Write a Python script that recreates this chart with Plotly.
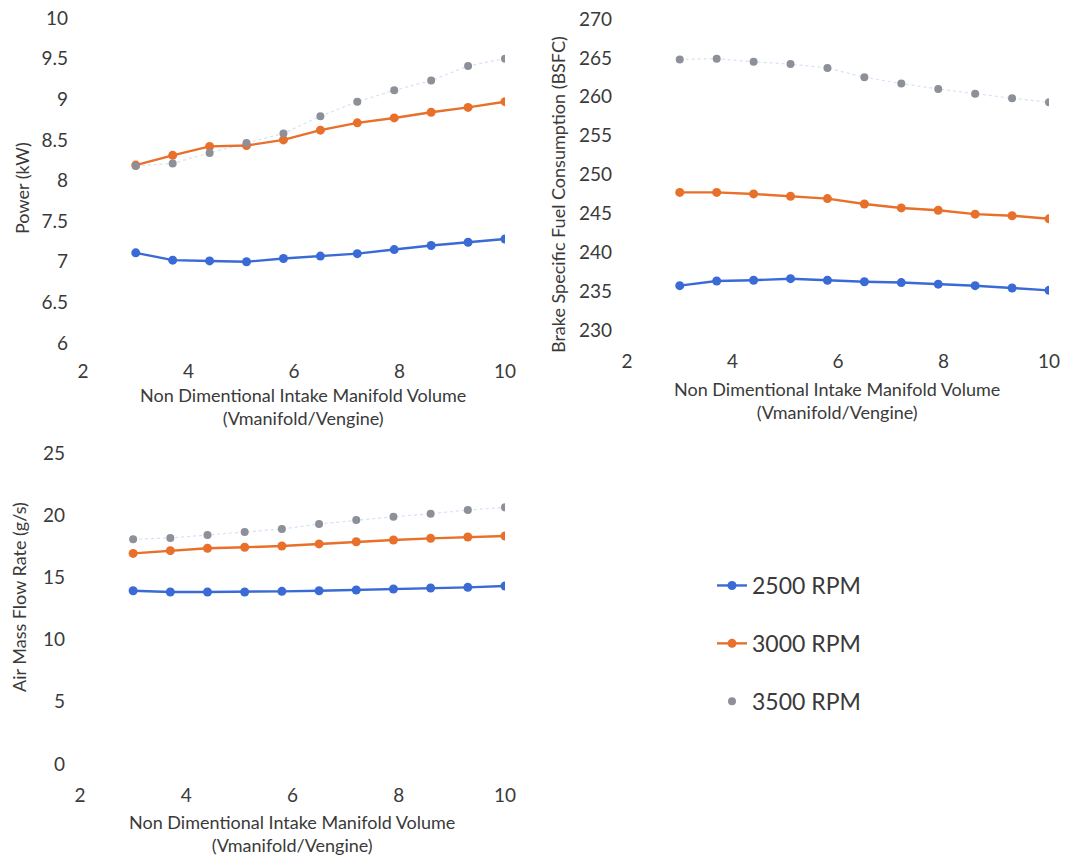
import plotly.graph_objects as go

W, H = 1081, 856

# ---- data ----
x_vals = [3.0, 3.7, 4.4, 5.1, 5.8, 6.5, 7.2, 7.9, 8.6, 9.3, 10.0]

power_2500 = [7.11, 7.02, 7.01, 7.00, 7.04, 7.07, 7.10, 7.15, 7.20, 7.24, 7.28]
power_3000 = [8.19, 8.31, 8.42, 8.43, 8.50, 8.62, 8.71, 8.77, 8.84, 8.90, 8.97]
power_3500 = [8.18, 8.21, 8.34, 8.46, 8.58, 8.79, 8.97, 9.11, 9.23, 9.41, 9.50]

bsfc_2500 = [235.7, 236.3, 236.4, 236.6, 236.4, 236.2, 236.1, 235.9, 235.7, 235.4, 235.1]
bsfc_3000 = [247.7, 247.7, 247.5, 247.2, 246.9, 246.2, 245.7, 245.4, 244.9, 244.7, 244.3]
bsfc_3500 = [264.8, 264.9, 264.5, 264.2, 263.7, 262.5, 261.7, 261.0, 260.4, 259.8, 259.3]

air_2500 = [13.93, 13.83, 13.83, 13.83, 13.88, 13.93, 13.99, 14.07, 14.15, 14.20, 14.31]
air_3000 = [16.93, 17.15, 17.34, 17.42, 17.52, 17.69, 17.87, 18.01, 18.14, 18.25, 18.33]
air_3500 = [18.06, 18.17, 18.41, 18.65, 18.89, 19.29, 19.61, 19.88, 20.12, 20.42, 20.63]

series_names = ["2500 RPM", "3000 RPM", "3500 RPM"]
x_title = "Non Dimentional Intake Manifold Volume<br>(Vmanifold/Vengine)"
y_titles = ["Power (kW)", "Brake Specific Fuel Consumption (BSFC)", "Air Mass Flow Rate (g/s)"]

# ---- styling ----
FONT = "Lato, Carlito, Calibri, sans-serif"
TXT = "#3a3a3a"
BLUE = "#3a6ad6"
ORANGE = "#e8702a"
GRAY = "#8d9099"
FAINT = "rgba(160,188,235,0.45)"

fig = go.Figure()

panels = [
    ("x", "y", [power_2500, power_3000, power_3500]),
    ("x2", "y2", [bsfc_2500, bsfc_3000, bsfc_3500]),
    ("x3", "y3", [air_2500, air_3000, air_3500]),
]

for pi, (xa, ya, data) in enumerate(panels):
    show = pi == 0
    # faint connector of 3500 series
    fig.add_trace(go.Scatter(x=x_vals, y=data[2], xaxis=xa, yaxis=ya, mode="lines",
                             line=dict(color=FAINT, width=1.2, dash="dot"),
                             showlegend=False, hoverinfo="skip"))
    fig.add_trace(go.Scatter(x=x_vals, y=data[0], xaxis=xa, yaxis=ya, mode="lines+markers",
                             name=series_names[0], legendgroup="a", showlegend=show,
                             line=dict(color=BLUE, width=2.4), marker=dict(color=BLUE, size=9)))
    fig.add_trace(go.Scatter(x=x_vals, y=data[1], xaxis=xa, yaxis=ya, mode="lines+markers",
                             name=series_names[1], legendgroup="b", showlegend=show,
                             line=dict(color=ORANGE, width=2.4), marker=dict(color=ORANGE, size=9)))
    fig.add_trace(go.Scatter(x=x_vals, y=data[2], xaxis=xa, yaxis=ya, mode="markers",
                             name=series_names[2], legendgroup="c", showlegend=show,
                             marker=dict(color=GRAY, size=8)))

def px_x(p):
    return p / W

def px_y(p):
    return 1 - p / H

axis_common = dict(showgrid=False, zeroline=False, showline=False, ticks="",
                   tickfont=dict(family=FONT, size=19, color=TXT), automargin=False)

fig.update_layout(
    width=W, height=H,
    margin=dict(l=0, r=0, t=0, b=0),
    paper_bgcolor="white", plot_bgcolor="white",
    font=dict(family=FONT, color=TXT),
    xaxis=dict(domain=[px_x(83), px_x(505)], anchor="y", range=[2, 10], dtick=2,
               ticklabelstandoff=15, **axis_common),
    yaxis=dict(domain=[px_y(343), px_y(18)], anchor="x", range=[6, 10], dtick=0.5,
               ticklabelstandoff=14, **axis_common),
    xaxis2=dict(domain=[px_x(627), px_x(1049)], anchor="y2", range=[2, 10], dtick=2,
                ticklabelstandoff=18, **axis_common),
    yaxis2=dict(domain=[px_y(330), px_y(19)], anchor="x2", range=[230, 270], dtick=5,
                ticklabelstandoff=14, **axis_common),
    xaxis3=dict(domain=[px_x(80), px_x(505)], anchor="y3", range=[2, 10], dtick=2,
                ticklabelstandoff=18, **axis_common),
    yaxis3=dict(domain=[px_y(764), px_y(453)], anchor="x3", range=[0, 25], dtick=5,
                ticklabelstandoff=14, **axis_common),
    legend=dict(x=px_x(712), y=px_y(564), xanchor="left", yanchor="top",
                font=dict(family=FONT, size=23, color=TXT),
                tracegroupgap=25, itemwidth=30, bgcolor="rgba(0,0,0,0)"),
)

ann = []
# x-axis titles
for cx, cy in [(303, 406), (837, 400), (292, 833)]:
    ann.append(dict(text=x_title, x=px_x(cx), y=px_y(cy), xref="paper", yref="paper",
                    xanchor="center", yanchor="middle", showarrow=False,
                    font=dict(family=FONT, size=18, color=TXT)))
# y-axis titles
for t, cx, cy in [(y_titles[0], 22, 188), (y_titles[1], 558, 195), (y_titles[2], 19, 597)]:
    ann.append(dict(text=t, x=px_x(cx), y=px_y(cy), xref="paper", yref="paper",
                    xanchor="center", yanchor="middle", showarrow=False, textangle=-90,
                    font=dict(family=FONT, size=18, color=TXT)))
fig.update_layout(annotations=ann)

fig.write_html("out.html")
